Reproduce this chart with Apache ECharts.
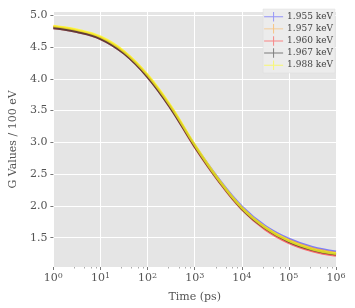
<!DOCTYPE html>
<html>
<head>
<meta charset="utf-8">
<script src="https://cdn.jsdelivr.net/npm/echarts@6/dist/echarts.min.js"></script>
<style>
  html, body { margin: 0; padding: 0; background: #fff; }
  #chart { width: 355px; height: 308px; }
</style>
</head>
<body>
<div id="chart"></div>
<script>
// time points (ps), half decades
var times = [1, 3.162, 10, 31.62, 100, 316.2, 1000, 3162, 10000, 31623, 100000, 316228, 1000000];

var g1955 = [4.81, 4.75, 4.64, 4.41, 4.04, 3.54, 2.95, 2.43, 1.99, 1.68, 1.48, 1.35, 1.28];
var g1957 = [4.82, 4.76, 4.65, 4.42, 4.05, 3.55, 2.95, 2.42, 1.97, 1.66, 1.46, 1.33, 1.26];
var g1960 = [4.80, 4.74, 4.63, 4.40, 4.03, 3.53, 2.93, 2.40, 1.95, 1.63, 1.42, 1.29, 1.22];
var g1967 = [4.80, 4.74, 4.63, 4.40, 4.03, 3.53, 2.94, 2.41, 1.96, 1.65, 1.44, 1.31, 1.24];
var g1988 = [4.83, 4.77, 4.66, 4.43, 4.06, 3.56, 2.96, 2.42, 1.97, 1.66, 1.45, 1.32, 1.25];

var names = ["1.955 keV", "1.957 keV", "1.960 keV", "1.967 keV", "1.988 keV"];
var values = [g1955, g1957, g1960, g1967, g1988];
var colors = ["#5a5aff", "#ffa733", "#ff4040", "#303030", "#ffff20"];

var yTicks = [1.5, 2.0, 2.5, 3.0, 3.5, 4.0, 4.5, 5.0];

var font = "DejaVu Serif";
var plus = "path://M0,4.5h20v1h-20z M9.5,0h1v10h-1z";

var series = names.map(function (n, i) {
  return {
    name: n,
    type: "line",
    smooth: 0.4,
    symbol: "none",
    data: times.map(function (t, k) { return [t, values[i][k]]; }),
    lineStyle: { color: colors[i], width: 2.6, opacity: 0.75 },
    itemStyle: { color: colors[i], opacity: 0.6 },
    z: 3 + i
  };
});

var myChart = echarts.init(document.getElementById("chart"));
myChart.setOption({
  animation: false,
  grid: {
    left: 50, right: 19, top: 12, bottom: 41,
    show: true, backgroundColor: "#e5e5e5", borderWidth: 0
  },
  legend: {
    right: 20, top: 9,
    orient: "vertical",
    itemWidth: 19, itemHeight: 10, itemGap: 2.6,
    icon: plus,
    padding: [3, 2, 3, 1],
    backgroundColor: "rgba(236,236,236,0.9)",
    borderColor: "#dcdcdc", borderWidth: 0.5,
    textStyle: { fontFamily: font, fontSize: 9, color: "#444", padding: [0, 0, 0, -1] },
    data: names
  },
  xAxis: {
    type: "log", logBase: 10, min: 1, max: 1000000,
    name: "Time (ps)", nameLocation: "middle", nameGap: 25,
    nameTextStyle: { fontFamily: font, fontSize: 11, color: "#555" },
    axisLine: { show: false },
    axisTick: { show: true, length: 3, lineStyle: { color: "#777" } },
    minorTick: { show: true, splitNumber: 5, length: 1.5, lineStyle: { color: "#aaa" } },
    splitLine: { show: true, lineStyle: { color: "#fff", width: 1 } },
    axisLabel: {
      margin: 5,
      formatter: function (v) {
        var e = Math.round(Math.log10(v));
        return "{b|10}{s|" + e + "}";
      },
      rich: {
        b: { fontFamily: font, fontSize: 11, color: "#555" },
        s: { fontFamily: font, fontSize: 8, color: "#555", verticalAlign: "top", padding: [0, 0, 5, 0] }
      }
    }
  },
  yAxis: {
    type: "value", min: 1.04, max: 5.05,
    name: "G Values / 100 eV", nameLocation: "middle", nameGap: 32,
    nameTextStyle: { fontFamily: font, fontSize: 11, color: "#555" },
    axisLine: { show: false },
    axisTick: { show: true, length: 3, customValues: yTicks, lineStyle: { color: "#777" } },
    splitLine: { show: true, lineStyle: { color: "#fff", width: 1 } },
    axisLabel: {
      customValues: yTicks, margin: 6,
      formatter: function (v) { return v.toFixed(1); },
      fontFamily: font, fontSize: 11, color: "#555"
    }
  },
  series: series
});
</script>
</body>
</html>
